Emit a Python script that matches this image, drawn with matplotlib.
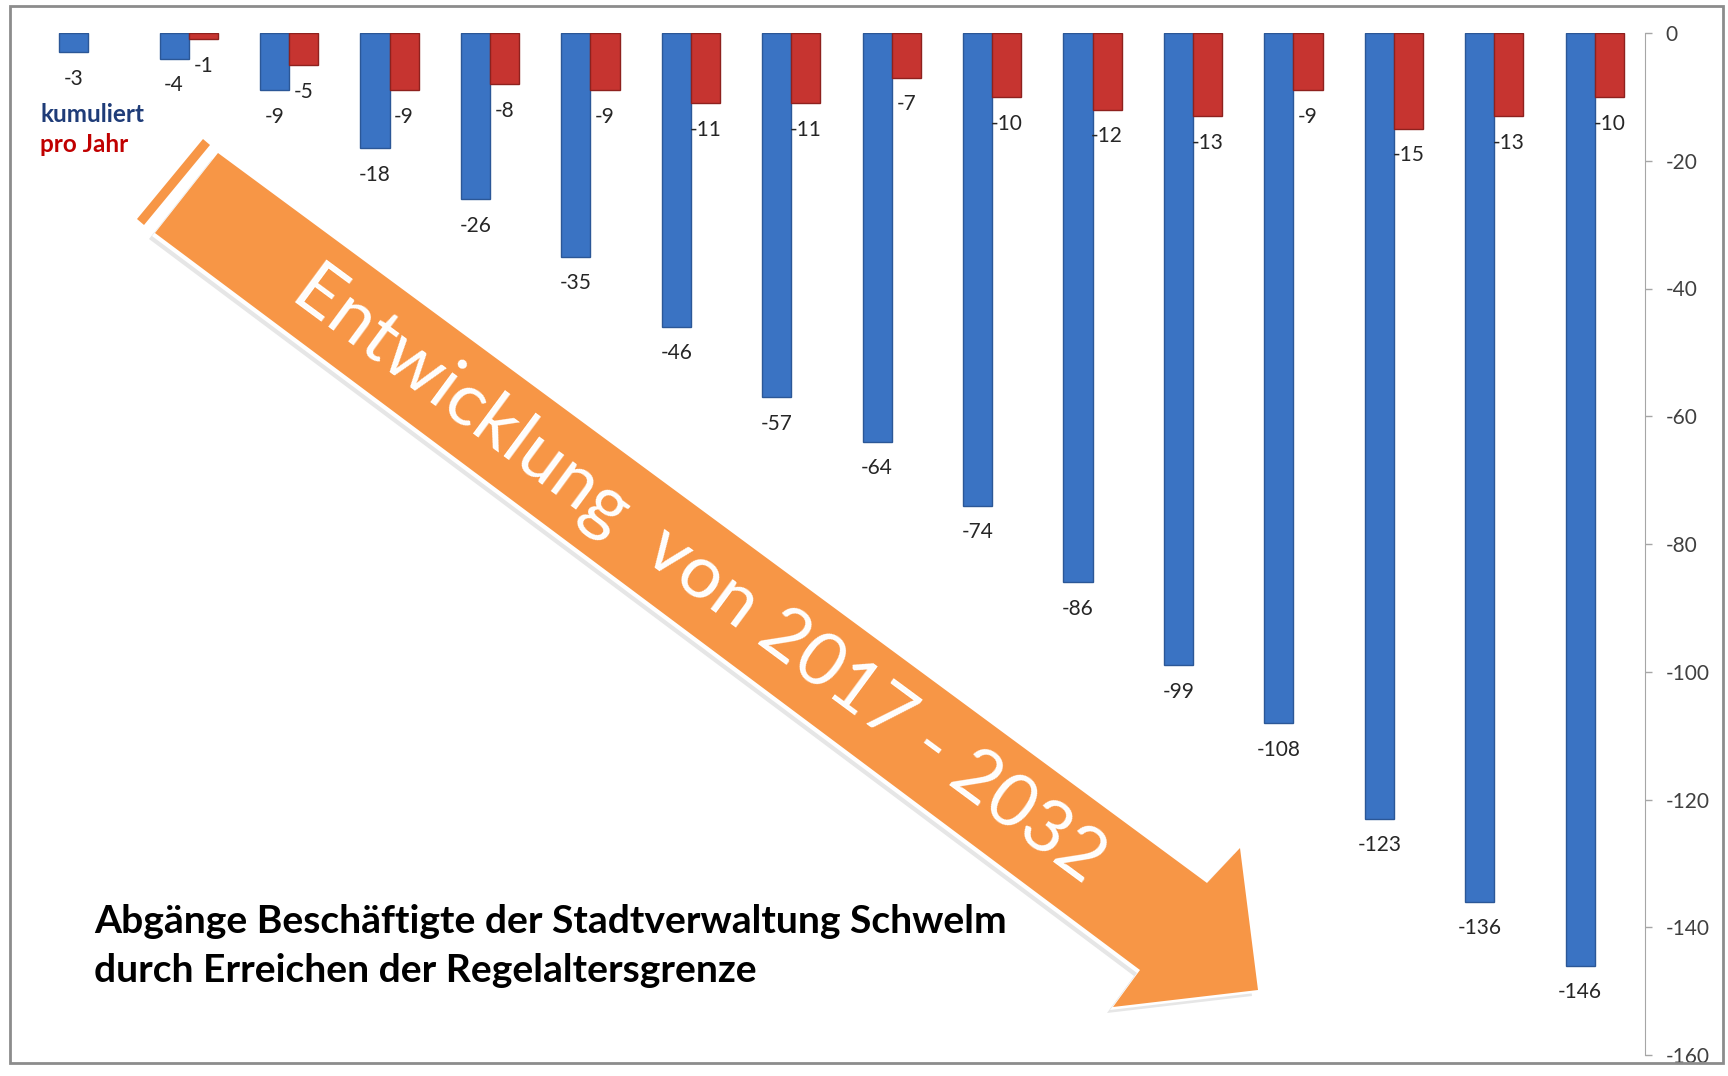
import matplotlib
matplotlib.use("Agg")
import matplotlib.pyplot as plt
from matplotlib.patches import Polygon, Rectangle
import numpy as np

# Daten: Abgaenge 2017 - 2032
years = list(range(2017, 2033))
kumuliert = [-3, -4, -9, -18, -26, -35, -46, -57, -64, -74, -86, -99, -108, -123, -136, -146]
pro_jahr = [np.nan, -1, -5, -9, -8, -9, -11, -11, -7, -10, -12, -13, -9, -15, -13, -10]
y_ticks = list(range(0, -161, -20))

legend_labels = ["kumuliert", "pro Jahr"]
title_lines = ["Abgänge Beschäftigte der Stadtverwaltung Schwelm",
               "durch Erreichen der Regelaltersgrenze"]
arrow_text = "Entwicklung  von 2017 - 2032"

BLUE = '#3A73C3'
BLUE_EDGE = '#2B5797'
RED = '#C63430'
RED_EDGE = '#8E211E'
ORANGE = '#F79646'

W, H = 1728, 1076
DPI = 100
plt.rcParams['font.family'] = ['Lato', 'DejaVu Sans']
plt.rcParams['axes.unicode_minus'] = False

fig = plt.figure(figsize=(W / DPI, H / DPI), dpi=DPI)
fig.patch.set_facecolor('white')
renderer = fig.canvas.get_renderer()


def fit_size(s, target_px, **kw):
    # scale a font size so the string is target_px wide
    t = fig.text(0, 0, s, fontsize=20, **kw)
    width = t.get_window_extent(renderer).width
    t.remove()
    return 20 * target_px / width


# main chart, axis on the right
ax = fig.add_axes([38 / W, 1 - 1055 / H, (1645 - 38) / W, (1055 - 33) / H])
x = np.arange(len(years))
w = 0.29
ax.bar(x - w / 2, kumuliert, w, color=BLUE, edgecolor=BLUE_EDGE, linewidth=1, zorder=2)
ax.bar(x + w / 2, pro_jahr, w, color=RED, edgecolor=RED_EDGE, linewidth=1, zorder=2)

for xi, v in zip(x, kumuliert):
    ax.annotate(f'{v}', (xi - w / 2, v), xytext=(0, -12), textcoords='offset points',
                ha='center', va='top', fontsize=15, color='#262626')
for xi, v in zip(x, pro_jahr):
    if np.isnan(v):
        continue
    ax.annotate(f'{int(v)}', (xi + w / 2, v), xytext=(0, -12), textcoords='offset points',
                ha='center', va='top', fontsize=15, color='#262626')

ax.set_xlim(-0.5, len(years) - 0.5)
ax.set_ylim(-160, 0)
ax.set_xticks([])
ax.yaxis.tick_right()
ax.set_yticks(y_ticks)
ax.set_yticklabels([str(t) for t in y_ticks])
ax.tick_params(axis='y', direction='out', length=5, width=1, color='#a6a6a6',
               labelsize=15, labelcolor='#404040', pad=10)
for side in ['top', 'bottom', 'left']:
    ax.spines[side].set_visible(False)
ax.spines['right'].set_color('#a6a6a6')
ax.patch.set_alpha(0)

# overlay in pixel coordinates for arrow and free texts
ov = fig.add_axes([0, 0, 1, 1], zorder=5)
ov.set_xlim(0, W)
ov.set_ylim(H, 0)
ov.axis('off')
ov.patch.set_alpha(0)

arrow_pts = np.array([(155, 233), (218, 153), (1207, 883), (1240, 848),
                      (1258, 990), (1113, 1007), (1140, 970)], dtype=float)
stripe_pts = np.array([(137, 219), (203, 139), (210, 145), (144, 225)], dtype=float)

ov.add_patch(Polygon(arrow_pts + [-6, 6], closed=True, color='#e6e6e6', lw=0))
ov.add_patch(Polygon(arrow_pts + [-3, 3], closed=True, color='white', lw=0))
ov.add_patch(Polygon(arrow_pts, closed=True, color=ORANGE, lw=0))
ov.add_patch(Polygon(stripe_pts, closed=True, color=ORANGE, lw=0))

angle = -np.degrees(np.arctan2(883 - 153, 1207 - 218))
fs_arrow = fit_size(arrow_text, 990)
ov.text(698, 576, arrow_text, rotation=angle, rotation_mode='anchor',
        ha='center', va='center', fontsize=fs_arrow, color='white')

ov.text(40, 122, legend_labels[0], ha='left', va='baseline', fontsize=17.5,
        fontweight='bold', color='#1F3C78')
ov.text(40, 152, legend_labels[1], ha='left', va='baseline', fontsize=17.5,
        fontweight='bold', color='#C00000')

fs_title = fit_size(title_lines[0], 911, fontweight='bold')
ov.text(94, 933, title_lines[0], ha='left', va='baseline', fontsize=fs_title,
        fontweight='bold', color='black')
ov.text(94, 982, title_lines[1], ha='left', va='baseline', fontsize=fs_title,
        fontweight='bold', color='black')

# frame round the whole chart
fig.add_artist(Rectangle((10 / W, 1 - 1063 / H), (1723 - 10) / W, (1063 - 6) / H,
                         transform=fig.transFigure, fill=False,
                         edgecolor='#8c8c8c', lw=2))

fig.savefig('out.png', dpi=DPI, facecolor='white')
